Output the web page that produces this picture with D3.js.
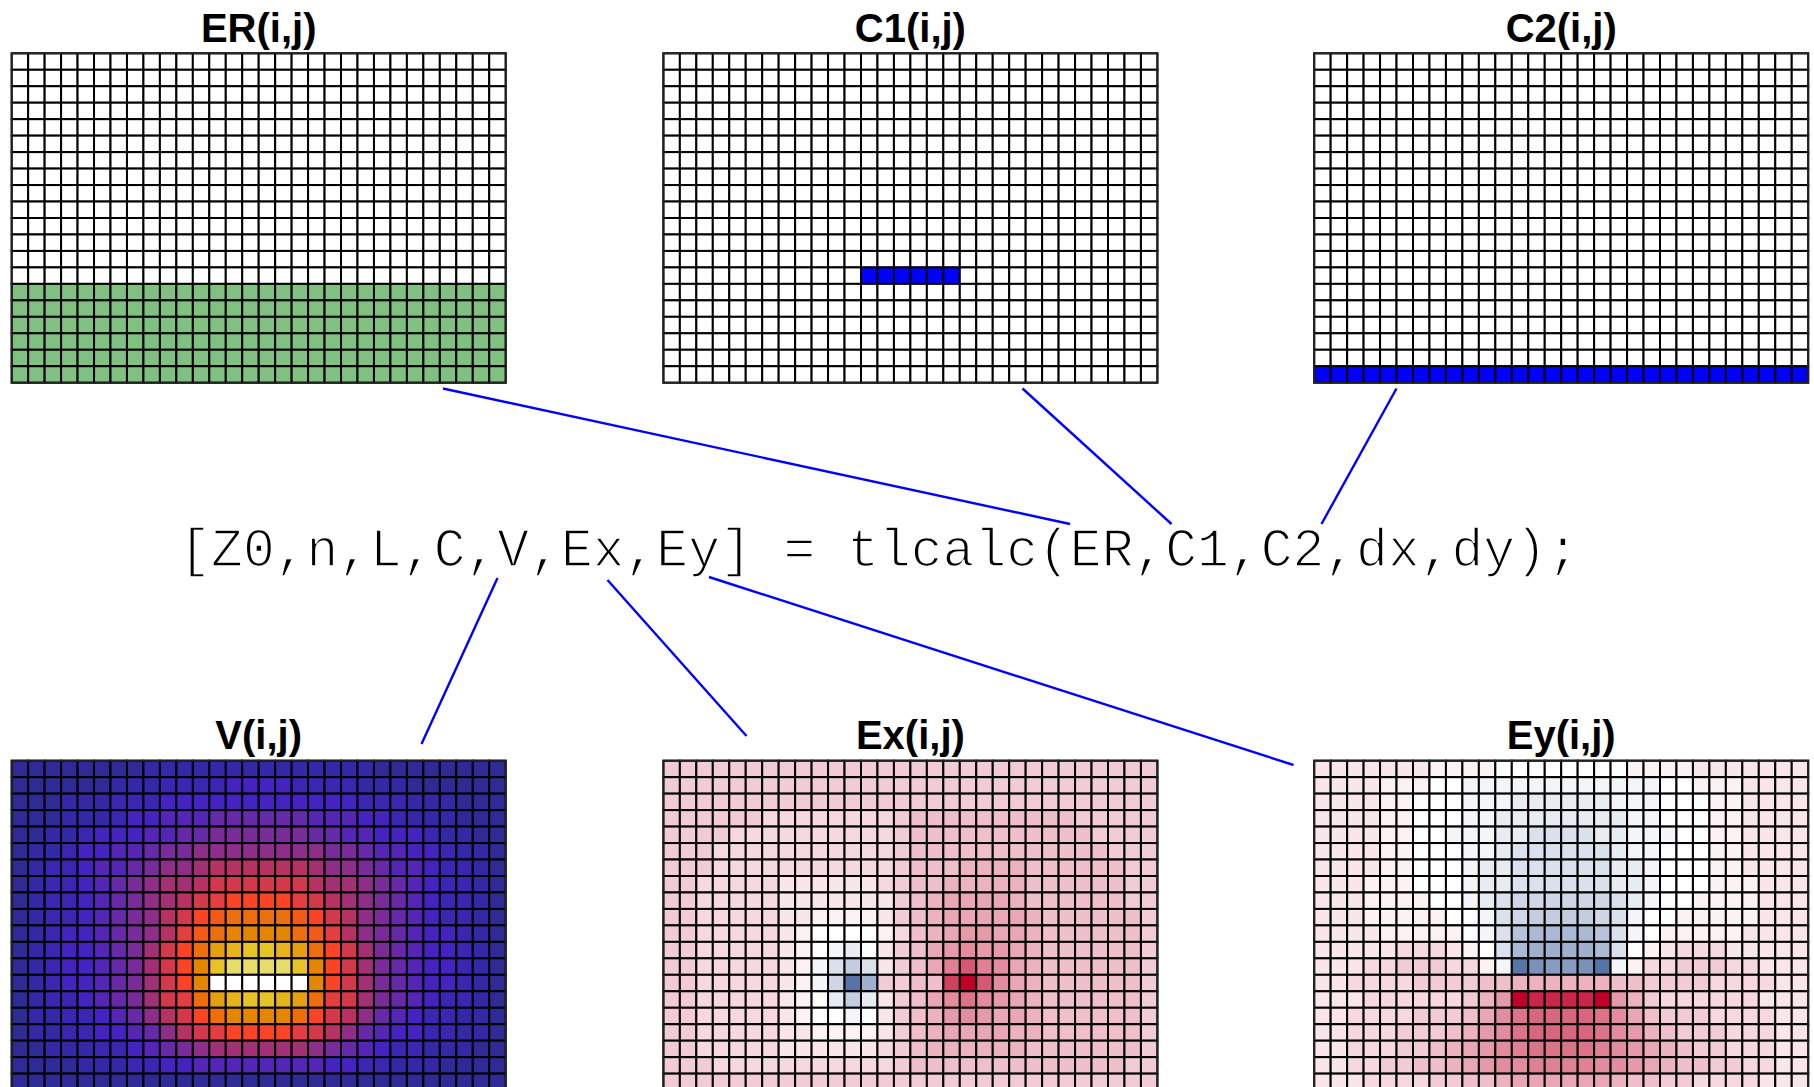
<!DOCTYPE html>
<html lang="en">
<head>
  <meta charset="UTF-8">
  <style>
    body { margin: 0; overflow: hidden; background: #fff; }
    svg { display: block; }
    .title { font-family: "Liberation Sans", Arial, sans-serif; font-weight: bold; font-size: 40px; text-anchor: middle; }
    .call {
      font-family: "Liberation Mono", "Courier New", monospace;
      font-size: 53px;
      text-anchor: middle;
      stroke: #fff;            /* thin the glyphs a bit, closer to Courier */
      stroke-width: 1.6;
    }
    .connection { stroke: #0000ff; stroke-width: 2.4; }
    .cell { stroke: #000; stroke-width: 2; }
  </style>
  <script src="https://d3js.org/d3.v7.min.js"></script>
</head>
<body>
<svg id="chart"></svg>
<script>
  // grid size (columns i, rows j)
  const nCols = 30;
  const nRows = 20;

  // ER: 0 = air, 1 = dielectric
  const erRows = [
    "000000000000000000000000000000", "000000000000000000000000000000",
    "000000000000000000000000000000", "000000000000000000000000000000",
    "000000000000000000000000000000", "000000000000000000000000000000",
    "000000000000000000000000000000", "000000000000000000000000000000",
    "000000000000000000000000000000", "000000000000000000000000000000",
    "000000000000000000000000000000", "000000000000000000000000000000",
    "000000000000000000000000000000", "000000000000000000000000000000",
    "111111111111111111111111111111", "111111111111111111111111111111",
    "111111111111111111111111111111", "111111111111111111111111111111",
    "111111111111111111111111111111", "111111111111111111111111111111"
  ];

  // C1: signal conductor
  const c1Rows = [
    "000000000000000000000000000000", "000000000000000000000000000000",
    "000000000000000000000000000000", "000000000000000000000000000000",
    "000000000000000000000000000000", "000000000000000000000000000000",
    "000000000000000000000000000000", "000000000000000000000000000000",
    "000000000000000000000000000000", "000000000000000000000000000000",
    "000000000000000000000000000000", "000000000000000000000000000000",
    "000000000000000000000000000000", "000000000000111111000000000000",
    "000000000000000000000000000000", "000000000000000000000000000000",
    "000000000000000000000000000000", "000000000000000000000000000000",
    "000000000000000000000000000000", "000000000000000000000000000000"
  ];

  // C2: ground plane
  const c2Rows = [
    "000000000000000000000000000000", "000000000000000000000000000000",
    "000000000000000000000000000000", "000000000000000000000000000000",
    "000000000000000000000000000000", "000000000000000000000000000000",
    "000000000000000000000000000000", "000000000000000000000000000000",
    "000000000000000000000000000000", "000000000000000000000000000000",
    "000000000000000000000000000000", "000000000000000000000000000000",
    "000000000000000000000000000000", "000000000000000000000000000000",
    "000000000000000000000000000000", "000000000000000000000000000000",
    "000000000000000000000000000000", "000000000000000000000000000000",
    "000000000000000000000000000000", "111111111111111111111111111111"
  ];

  // V: potential level per cell, 0 (low) .. k=20 (high), base 36
  const vRows = [
    "000000001111111111111100000000",
    "000000111222233332222111000000",
    "000111222333333333333222111000",
    "000111233444555555444332111000",
    "001123334455666666554433321100",
    "011233445667777777766544332110",
    "012234456778999999877654432210",
    "012234567889aaaaaa988765432210",
    "01223456789abccccba98765432210",
    "0122345679acdeeeedca9765432210",
    "0123345679bdeffffedb9765433210",
    "012334568aceghiihgeca865433210",
    "012334568acfijjjjifca865433210",
    "012334568acfkkkkkkfca865433210",
    "012234568abeghiihgeba865432210",
    "0112234579aceffffeca9754322110",
    "01122334579abccccba97543322110",
    "001112234567888888765432211100",
    "000011122334444444433221110000",
    "000000000000000000000000000000"
  ];

  // Ex, Ey: field level per cell, 0 (most negative) .. f=15 (white) .. z=35 (most positive)
  const exRows = [
    "jjjjjjjjjjjjjjjjjjjjjjjjjjjjjj",
    "jjjjjjjjjjjjjjjjjjjjjjjjjjjjjj",
    "jjjjjjjjjjjjjjjjjjjjjjjjjjjjjj",
    "jjjjjjiiiiiiiijkkkkkkkkkkjjjjj",
    "jjjjiiiiiiiiiijkkkkkkkkkkkjjjj",
    "jjjiiiiiiiiiiijkkkkkkkkkkkkjjj",
    "jjjiiiiiiiiiiijkkkllllkkkkkkjj",
    "jjiiiiihhhhhhijkklllllkkkkkkjj",
    "jjiiiiihhhhhhhjklmmmmlkkkkkkjj",
    "jjiiiiihhgggghjklmmmmmlkkkkkkj",
    "jjiiiiihgffffgiklmnnmmlkkkkkkj",
    "jjiiiiihgfedfhjkmnonnmlkkkkkkj",
    "jjiiiiihgecachjkmpspomlkkkkkkj",
    "jjiiiiihgeb17jjkkuzsomlkkkkkkj",
    "jjiiiiihgfdadhjkmoqonmlkkkkkkj",
    "jjiiiiihgffefhjklnonmmlkkkkkkj",
    "jjiiiiihhgggghjklmmmmllkkkkkkj",
    "jjiiiiihhhhhhijkllllllkkkkkkkj",
    "jjjiiiiiiiiiiijkkkkkkkkkkkkkjj",
    "jjjjjjjjjjjjjjjjjjjjjjjjjjjjjj"
  ];

  const eyRows = [
    "hhhhhhhggggffffffffgggghhhhhhh",
    "hhhhgggffeeeeeeeeeeeeffggghhhh",
    "hhhhggfffeeeddddddeeefffgghhhh",
    "hhhhggfffeeddddddddeefffgghhhh",
    "hhhhggffeeeddccccddeeeffgghhhh",
    "hhhhggfffeedccccccdeefffgghhhh",
    "hhhhggfffeddccccccddefffgghhhh",
    "hhhgggfffeddccccccddefffggghhh",
    "hhhggggffedcbbbbbbcdeffgggghhh",
    "hhhgggggffecbaaaabceffggggghhh",
    "hhhhgggggfec988889cefggggghhhh",
    "hhhhhiiihgfc877778cfghiiihhhhh",
    "hhhiijjjiige145541egiijjjiihhh",
    "hhiiiijjjjkkllllllkkjjjjiiiihh",
    "hhhiiiiiijlnzwwwwznljiiiiiihhh",
    "hhiiiijjjkmoqrrrrqomkjjjiiiihh",
    "hhiiijjjklnoqrrrrqonlkjjjiiihh",
    "hhiiijjklmnopqqqqponmlkjjiiihh",
    "hhiijjkklmnooppppoonmlkkjjiihh",
    "hhhiiiijjkklmmmmmmlkkjjiiiihhh"
  ];

  const callText = "[Z0,n,L,C,V,Ex,Ey] = tlcalc(ER,C1,C2,dx,dy);";

  // colour scales
  const maskColor = d3.scaleOrdinal().domain([0, 1]).range(["#ffffff", "#80c080"]);
  const condColor = d3.scaleOrdinal().domain([0, 1]).range(["#ffffff", "#0000ff"]);
  const vColor = d3.scaleLinear()
    .domain(d3.range(21))
    .range(["#2f2a96", "#3428a6", "#3b26b2", "#4523c0", "#5426b6", "#6629a8", "#7a2b9a",
            "#8e2e88", "#a23074", "#b63262", "#d23a4c", "#e43e40", "#fb4426", "#f25a16",
            "#ed6e0c", "#e48600", "#e4a010", "#e6b41a", "#e6c428", "#e6dc6a", "#ffffff"]);
  const eColor = d3.scaleLinear().domain([0, 15, 35]).range(["#4a6aa0", "#ffffff", "#c00029"]);

  const width = 1814, height = 1087;
  const svg = d3.select("#chart").attr("width", width).attr("height", height);

  const gridW = 494, gridH = 329.4;
  const colX = [11.7, 663.4, 1314.2];
  const rowY = [53.3, 760.7];

  const x = d3.scaleBand().domain(d3.range(nCols)).range([0, gridW]);
  const y = d3.scaleBand().domain(d3.range(nRows)).range([0, gridH]);

  const panels = [
    { title: "ER(i,j)", rows: erRows, color: maskColor, col: 0, row: 0 },
    { title: "C1(i,j)", rows: c1Rows, color: condColor, col: 1, row: 0 },
    { title: "C2(i,j)", rows: c2Rows, color: condColor, col: 2, row: 0 },
    { title: "V(i,j)", rows: vRows, color: vColor, col: 0, row: 1 },
    { title: "Ex(i,j)", rows: exRows, color: eColor, col: 1, row: 1 },
    { title: "Ey(i,j)", rows: eyRows, color: eColor, col: 2, row: 1 }
  ];

  // connectors go under everything
  const links = svg.append("g");

  panels.forEach(p => {
    const g = svg.append("g")
      .attr("transform", `translate(${colX[p.col]},${rowY[p.row]})`);

    const cells = [];
    p.rows.forEach((line, j) => {
      line.split("").forEach((ch, i) => cells.push({ i, j, v: parseInt(ch, 36) }));
    });

    g.selectAll("rect.cell")
      .data(cells)
      .join("rect")
      .attr("class", "cell")
      .attr("x", d => x(d.i))
      .attr("y", d => y(d.j))
      .attr("width", x.bandwidth())
      .attr("height", y.bandwidth())
      .attr("fill", d => p.color(d.v));

    g.append("rect")
      .attr("width", gridW)
      .attr("height", gridH)
      .attr("fill", "none")
      .attr("stroke", "#222")
      .attr("stroke-width", 2);

    svg.append("text")
      .attr("class", "title")
      .attr("x", colX[p.col] + gridW / 2)
      .attr("y", rowY[p.row] - 11.5)
      .text(p.title);
  });

  svg.append("text")
    .attr("class", "call")
    .attr("x", 879)
    .attr("y", 566)
    .text(callText);

  // lines from each array to its name in the call
  const connections = [
    [443, 388.5, 1070, 524],
    [1022.5, 388.5, 1171.5, 524],
    [1396.5, 388.5, 1321.5, 524],
    [497.5, 578, 421.5, 744],
    [607.5, 580, 746.5, 736],
    [709, 577, 1293.5, 765]
  ];
  links.selectAll("line")
    .data(connections)
    .join("line")
    .attr("class", "connection")
    .attr("x1", d => d[0]).attr("y1", d => d[1])
    .attr("x2", d => d[2]).attr("y2", d => d[3]);
</script>
</body>
</html>
